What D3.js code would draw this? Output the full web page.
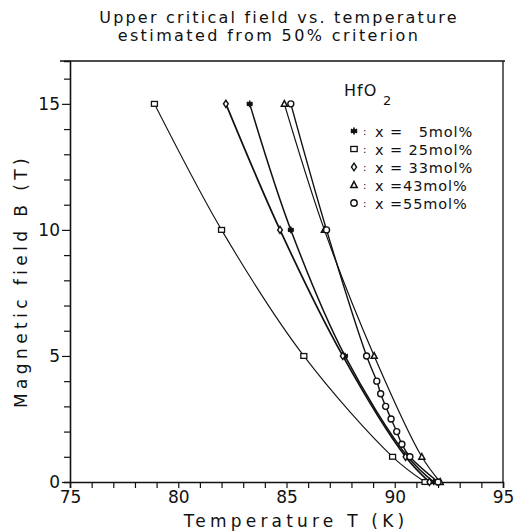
<!DOCTYPE html>
<html><head><meta charset="utf-8">
<script src="https://cdn.jsdelivr.net/npm/d3@7"></script>
<style>
html,body{margin:0;padding:0;background:#fff;}
svg{display:block;}
text{font-family:"DejaVu Sans",sans-serif;fill:#111;}
</style></head>
<body>
<script>
// ---- data ----
const titleLines = ["Upper critical field vs. temperature", "estimated from 50% criterion"];
const xTicks = [75, 80, 85, 90, 95];
const yTicks = [0, 5, 10, 15];
const legendLabels = ["x = \u20075mol%", "x = 25mol%", "x = 33mol%", "x =43mol%", "x =55mol%"];
const legendShapes = ["star", "square", "diamond", "triangle", "circle"];

// x = 5 mol% (star)
const s5T = [91.8, 90.6, 87.7, 85.2, 83.3];
const s5B = [0, 1, 5, 10, 15];
// x = 25 mol% (square)
const s25T = [91.4, 89.9, 85.8, 82.0, 78.9];
const s25B = [0, 1, 5, 10, 15];
// x = 33 mol% (diamond)
const s33T = [91.6, 90.5, 87.6, 84.7, 82.2];
const s33B = [0, 1, 5, 10, 15];
// x = 43 mol% (triangle)
const s43T = [92.1, 91.25, 89.05, 86.75, 84.9];
const s43B = [0, 1, 5, 10, 15];
// x = 55 mol% (circle)
const s55T = [92.0, 90.7, 90.33, 90.09, 89.83, 89.58, 89.35, 89.17, 88.7, 86.85, 85.2];
const s55B = [0, 1, 1.5, 2, 2.5, 3, 3.5, 4, 5, 10, 15];

const seriesT = [s5T, s25T, s33T, s43T, s55T];
const seriesB = [s5B, s25B, s33B, s43B, s55B];

// ---- layout ----
const W = 515, H = 531;
const m = {left: 70, right: 503, top: 61, bottom: 482};
const x = d3.scaleLinear().domain([75, 95]).range([m.left, m.right]);
const y = d3.scaleLinear().domain([0, 16.7]).range([m.bottom, m.top]);

const svg = d3.select("body").append("svg").attr("width", W).attr("height", H);

// title
svg.append("text").attr("x", 279).attr("y", 23).attr("text-anchor", "middle")
  .style("font-size", "16px").style("letter-spacing", "2.2px").text(titleLines[0]);
svg.append("text").attr("x", 269).attr("y", 41).attr("text-anchor", "middle")
  .style("font-size", "16px").style("letter-spacing", "2.4px").text(titleLines[1]);

// frame
svg.append("line").attr("x1", 60).attr("x2", m.right + 2).attr("y1", m.top).attr("y2", m.top)
  .attr("stroke", "#111").attr("stroke-width", 1.3);
svg.append("line").attr("x1", m.right).attr("x2", m.right).attr("y1", m.top).attr("y2", m.bottom)
  .attr("stroke", "#111").attr("stroke-width", 1.3);

// axes
const minorX = d3.range(75, 96, 1);
const minorY = d3.range(0, 17, 1);
const xAxis = d3.axisBottom(x).tickValues(minorX).tickSize(6)
  .tickFormat(d => xTicks.includes(d) ? d : "");
const gx = svg.append("g").attr("transform", `translate(0,${m.bottom})`).call(xAxis);
gx.select(".domain").attr("stroke", "#111").attr("stroke-width", 1.6);
gx.selectAll(".tick line").attr("stroke", "#111").attr("stroke-width", 1.2);
gx.selectAll(".tick text").style("font-size", "17px").style("font-family", "DejaVu Sans")
  .attr("dy", "0.95em").attr("y", 5);

const yAxis = d3.axisLeft(y).tickValues(minorY).tickSize(6)
  .tickFormat(d => yTicks.includes(d) ? d : "");
const gy = svg.append("g").attr("transform", `translate(${m.left},0)`).call(yAxis);
gy.select(".domain").attr("stroke", "#111").attr("stroke-width", 1.6);
gy.selectAll(".tick line").attr("stroke", "#111").attr("stroke-width", 1.2)
  .attr("x2", d => yTicks.includes(d) ? -8 : -6);
gy.selectAll(".tick text").style("font-size", "17px").style("font-family", "DejaVu Sans")
  .attr("x", -10);

// axis labels
svg.append("text").attr("x", 296).attr("y", 527).attr("text-anchor", "middle")
  .style("font-size", "17px").style("letter-spacing", "4.2px").text("Temperature T (K)");
svg.append("text").attr("transform", "translate(27,281) rotate(-90)").attr("text-anchor", "middle")
  .style("font-size", "17px").style("letter-spacing", "4.4px").text("Magnetic field B (T)");

// markers
function marker(g, shape, cx, cy, s) {
  const r = s;
  if (shape === "square") {
    g.append("rect").attr("x", cx - r).attr("y", cy - r * 0.8).attr("width", 2 * r).attr("height", 1.6 * r)
      .attr("fill", "#fff").attr("stroke", "#111").attr("stroke-width", 1.3);
  } else if (shape === "circle") {
    g.append("circle").attr("cx", cx).attr("cy", cy).attr("r", r)
      .attr("fill", "#fff").attr("stroke", "#111").attr("stroke-width", 1.4);
  } else if (shape === "diamond") {
    g.append("path").attr("d", `M${cx},${cy - r * 1.2}L${cx + r * 0.8},${cy}L${cx},${cy + r * 1.2}L${cx - r * 0.8},${cy}Z`)
      .attr("fill", "#fff").attr("stroke", "#111").attr("stroke-width", 1.4);
  } else if (shape === "triangle") {
    g.append("path").attr("d", `M${cx},${cy - r * 1.1}L${cx + r},${cy + r * 0.8}L${cx - r},${cy + r * 0.8}Z`)
      .attr("fill", "#fff").attr("stroke", "#111").attr("stroke-width", 1.5);
  } else if (shape === "star") {
    let d = "";
    for (let i = 0; i < 3; i++) {
      const a = Math.PI / 2 + i * Math.PI / 3;
      d += `M${cx + r * 1.1 * Math.cos(a)},${cy + r * 1.1 * Math.sin(a)}L${cx - r * 1.1 * Math.cos(a)},${cy - r * 1.1 * Math.sin(a)}`;
    }
    d += `M${cx - r},${cy}L${cx + r},${cy}`;
    g.append("path").attr("d", d).attr("stroke", "#111").attr("stroke-width", 1.7).attr("fill", "none");
  }
}

// series
const line = d3.line().x(d => x(d[0])).y(d => y(d[1])).curve(d3.curveCatmullRom.alpha(0.5));
const plot = svg.append("g");
const lineWidths = [1.5, 1.1, 1.7, 1.2, 1.4];
seriesT.forEach((T, i) => {
  const pts = T.map((t, j) => [t, seriesB[i][j]]);
  plot.append("path").datum(pts).attr("d", line).attr("fill", "none")
    .attr("stroke", "#111").attr("stroke-width", lineWidths[i]);
});
seriesT.forEach((T, i) => {
  T.forEach((t, j) => marker(plot, legendShapes[i], x(t), y(seriesB[i][j]), 3));
});

// legend
const lg = svg.append("g");
lg.append("text").attr("x", 344).attr("y", 96).style("font-size", "16px").style("letter-spacing", "1px").text("HfO");
lg.append("text").attr("x", 383).attr("y", 105).style("font-size", "13px").text("2");
legendLabels.forEach((lab, i) => {
  const yy = 131 + i * 18;
  marker(lg, legendShapes[i], 354, yy, 3.2);
  lg.append("text").attr("x", 363).attr("y", yy + 4).style("font-size", "10px").text(":");
  lg.append("text").attr("x", 375).attr("y", yy + 5.5).style("font-size", "14.5px").style("letter-spacing", "0.9px").text(lab);
});
</script>
</body></html>
